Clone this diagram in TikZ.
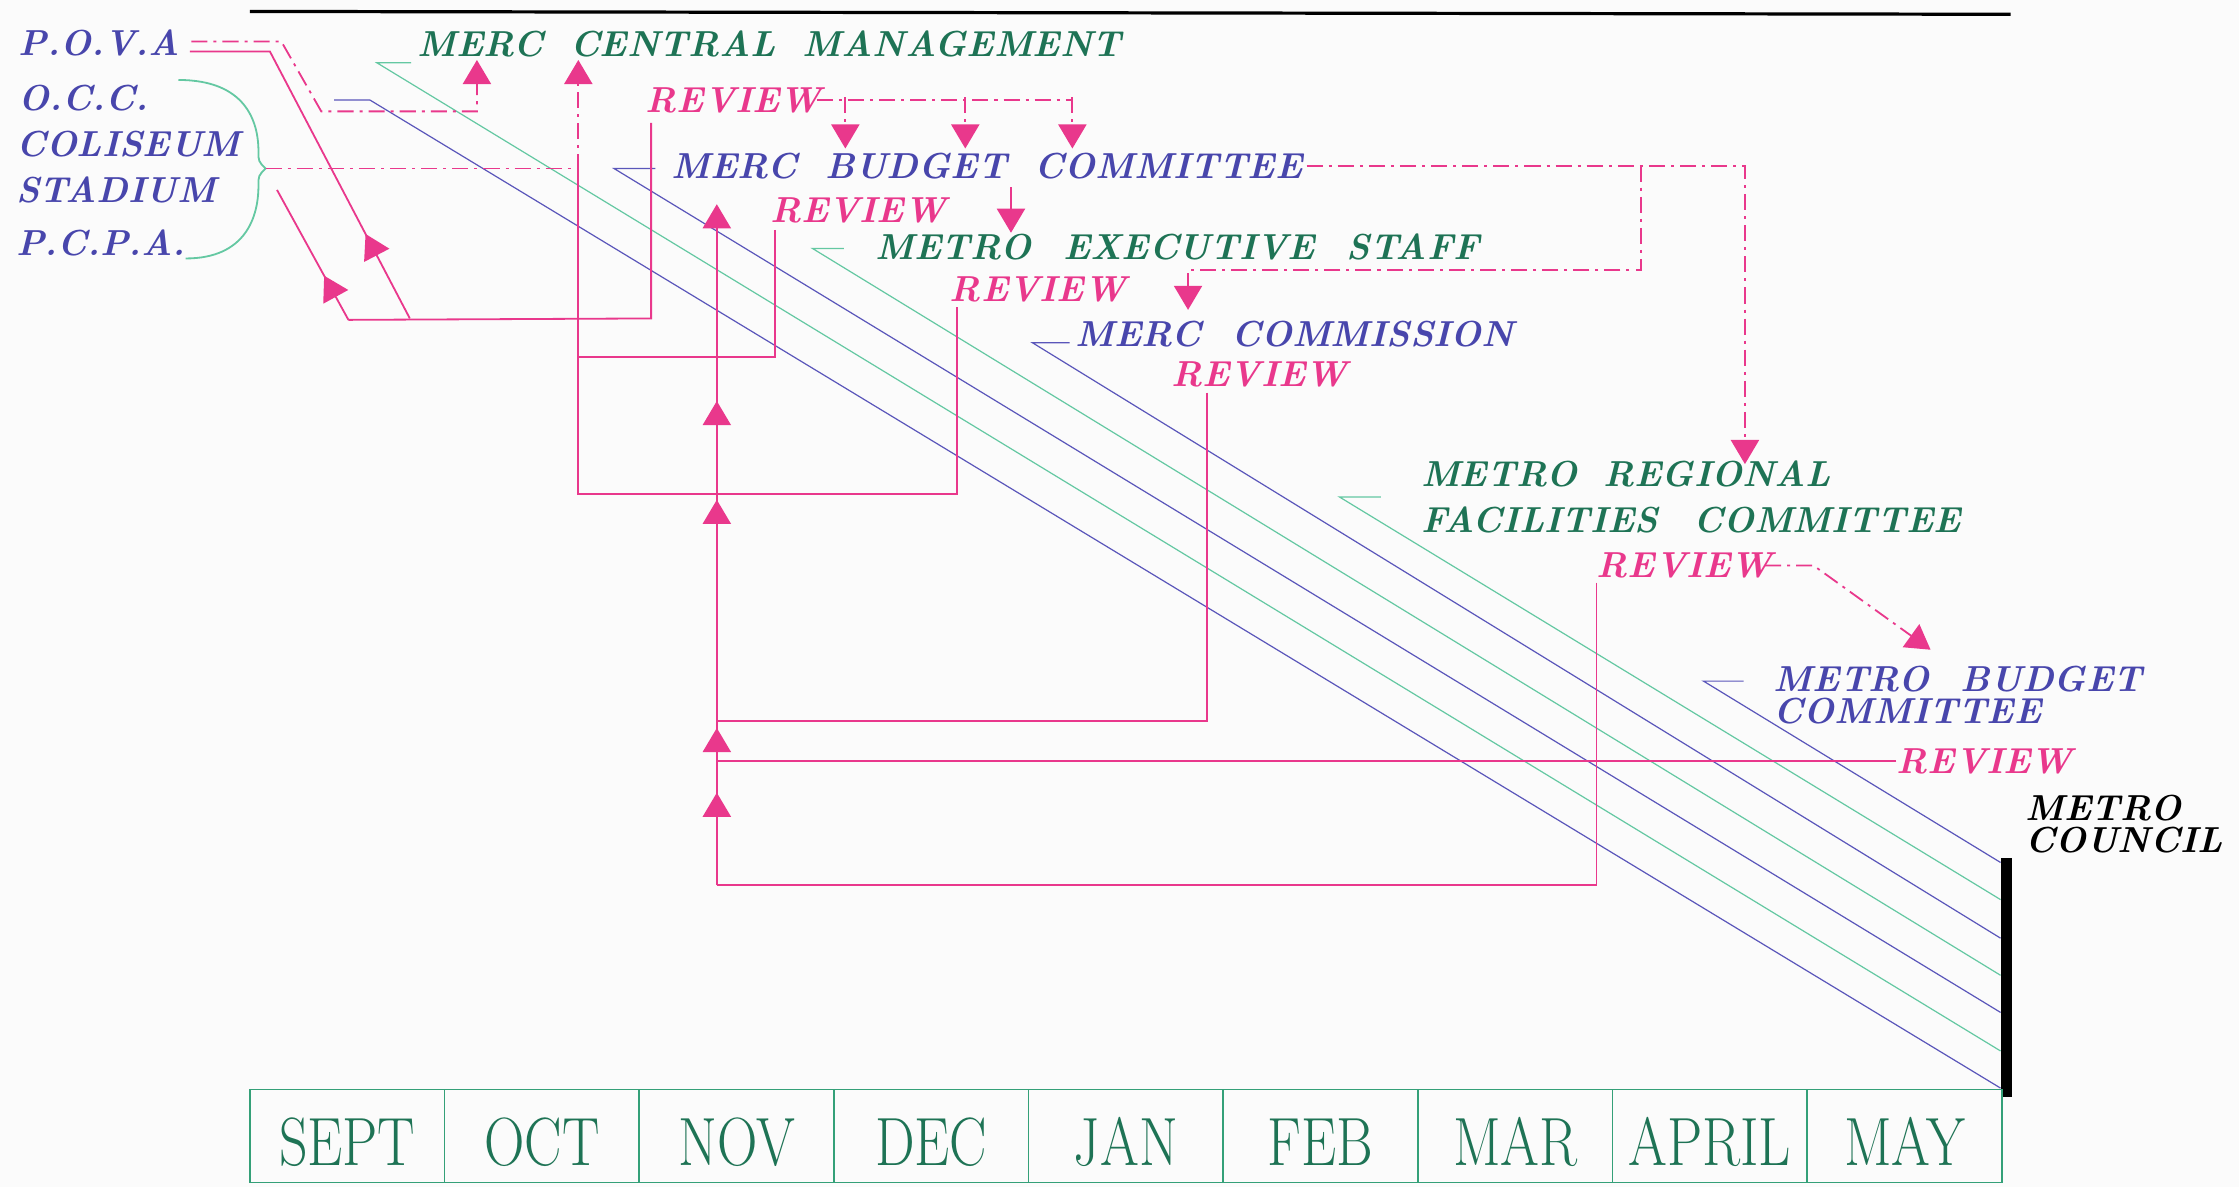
\documentclass[tikz,border=0pt]{standalone}
\usepackage{graphicx}
\usetikzlibrary{calc, positioning}
\usetikzlibrary{arrows.meta}
\usetikzlibrary{decorations.markings}

\definecolor{pinkln}{RGB}{233,56,140}
\definecolor{bluetx}{RGB}{72,70,172}
\definecolor{greentx}{RGB}{30,115,85}
\definecolor{greenln}{RGB}{100,200,162}
\definecolor{blueln}{RGB}{90,86,186}
\definecolor{boxgreen}{RGB}{52,160,120}
\definecolor{paper}{RGB}{251,251,251}

\newcommand{\spreadtxt}[2]{\makebox[\dimexpr 0.025cm*#1\relax][s]{#2}}
\newcommand{\montxt}[1]{\scalebox{0.82}[1]{#1}}
\newcommand{\ptip}{\arrow{Triangle[width=14pt,length=12pt]}}

\tikzset{
  lbl/.style={font=\bfseries\itshape\fontsize{18}{20}\selectfont, inner sep=0pt, anchor=west},
  review/.style={lbl, text=pinkln},
  flow/.style={pinkln, line width=0.9pt},
  ddash/.style={flow, dash pattern=on 8pt off 3pt on 1.5pt off 3pt},
  tipped/.style={-{Triangle[width=14pt,length=12pt]}},
  midtip/.style={postaction={decorate},
    decoration={markings, mark=at position #1 with {\ptip}}},
  tline/.style={line width=0.6pt},
  monthbox/.style={draw=boxgreen, line width=0.8pt, minimum width=3.408cm,
    minimum height=1.625cm, inner sep=0pt, text=greentx,
    text height=1.04cm, text depth=0pt, font=\fontsize{34}{34}\selectfont}
}

\begin{document}
\begin{tikzpicture}[x=0.025cm, y=-0.025cm]
\fill[paper] (0,0) rectangle (1568,831);
\useasboundingbox (0,0) rectangle (1568,831);

% top rule
\coordinate (ruleL) at (175,8);
\coordinate (ruleR) at (1408,10);
\draw[line width=1.6pt] (ruleL) -- (ruleR);

% facilities
\node[lbl, text=bluetx] (pova) at (13,30) {P.O.V.A};
\node[lbl, text=bluetx] (occ) at (13,69) {O.C.C.};
\node[lbl, text=bluetx] (coli) at (11,101) {COLISEUM};
\node[lbl, text=bluetx] (stad) at (11,133) {STADIUM};
\node[lbl, text=bluetx] (pcpa) at (11,170) {P.C.P.A.};

\coordinate (brtop) at (125,56);
\coordinate (brtip) at (186,118);
\coordinate (brbot) at (130,181);
\draw[greenln, line width=0.9pt] (brtop) .. controls (172,56) and (181,85) .. (181,106)
  .. controls (181,113) .. (brtip) .. controls (181,123) .. (181,130)
  .. controls (181,152) and (172,181) .. (brbot);

% bodies
\node[lbl, text=greentx] (mcm) at (292,31) {\spreadtxt{493}{MERC CENTRAL MANAGEMENT}};
\node[review] (rv1) at (452,70) {REVIEW};
\node[lbl, text=bluetx] (mbc) at (470,116) {\spreadtxt{442}{MERC BUDGET COMMITTEE}};
\node[review] (rv2) at (539,147) {REVIEW};
\node[lbl, text=greentx] (mes) at (613,173) {\spreadtxt{423}{METRO EXECUTIVE STAFF}};
\node[review] (rv3) at (665,203) {REVIEW};
\node[lbl, text=bluetx] (mcom) at (753,234) {\spreadtxt{307}{MERC COMMISSION}};
\node[review] (rv4) at (820,262) {REVIEW};
\node[lbl, text=greentx, align=left, font=\bfseries\itshape\fontsize{18}{22.7}\selectfont]
  (mrf) at (995,348) {\spreadtxt{287}{METRO REGIONAL}\\\spreadtxt{378}{FACILITIES COMMITTEE}};
\node[review] (rv5) at (1118,396) {REVIEW};
\node[lbl, text=bluetx, align=left, font=\bfseries\itshape\fontsize{18}{15.8}\selectfont]
  (mbud) at (1242,487) {\spreadtxt{258}{METRO BUDGET}\\COMMITTEE};
\node[review] (rv6) at (1328,533) {REVIEW};
\node[lbl, align=left, font=\bfseries\itshape\fontsize{18}{15.8}\selectfont]
  (council) at (1418,577) {METRO\\COUNCIL};

% time lines to council
\coordinate (cbarT) at (1405,601);
\coordinate (cbarB) at (1405,768);
\foreach \sx/\sy/\tx/\col/\ey in {259/70/234/blueln/762, 264/44/288/greenln/736,
    430/118/459/blueln/709, 569/174/591/greenln/683, 723/240/749/blueln/657,
    938/348/967/greenln/630, 1193/477/1221/blueln/604}
  \draw[tline, \col] (\tx,\sy) -- (\sx,\sy) -- (1401,\ey);
\draw[line width=5.5pt] (cbarT) -- (cbarB);

% back to the facilities
\coordinate (r1foot) at (456,86);
\coordinate (fbotR) at (456,223);
\coordinate (fbotL) at (244,224);
\coordinate (fbrace) at (194,133);
\coordinate (fpovaB) at (287,223);
\coordinate (fpovaK) at (189,36);
\coordinate (fpovaE) at (133,36);
\draw[flow] (r1foot) -- (fbotR) -- (fbotL);
\draw[flow, midtip=0.34] (fbotL) -- (fbrace);
\draw[flow, midtip=0.25] (fpovaB) -- (fpovaK) -- (fpovaE);

% back to central management
\coordinate (cmx) at (405,118);
\coordinate (cmA) at (334,42);
\coordinate (cmB) at (405,42);
\draw[flow] (543,161) |- (405,250);
\draw[flow] (670,215) |- (405,346) -- (cmx);
\draw[ddash, tipped] (134,29) -- (197,29) -- (225,78) -- (334,78) -- (cmA);
\draw[ddash, tipped] (brtip) -- (cmx) -- (cmB);

% back to merc budget committee
\coordinate (spineT) at (502,143);
\coordinate (spineB) at (502,620);
\draw[flow, tipped, postaction={decorate}, decoration={markings,
    mark=at position 0.136 with {\ptip}, mark=at position 0.231 with {\ptip},
    mark=at position 0.566 with {\ptip}, mark=at position 0.711 with {\ptip}}]
  (spineB) -- (spineT);
\draw[flow] (845,275) |- (502,505);
\draw[flow] (rv6.west) -- (rv6.west -| spineB);
\draw[flow] (1118,408) |- (spineB);
\draw[flow, tipped] (708,131) -- (708,163);

% forward reviews
\draw[ddash] (572,70) -- (751,70);
\foreach \xx in {592,676,751}
  \draw[ddash, tipped] (\xx,68) -- (\xx,104);
\draw[ddash, tipped] (915,116) -- (1222,116) -- (1222,325);
\draw[ddash, tipped] (1149,116) -- (1149,189) -- (832,189) -- (832,217);
\draw[ddash, tipped] (1236,396) -- (1270,396) -- (1352,455);

% months
\foreach \mname [count=\i] in {SEPT,OCT,NOV,DEC,JAN,FEB,MAR,APRIL,MAY}
  \node[monthbox] (mon\i) at ({175+136.33*(\i-0.5)},795.5) {\montxt{\mname}};
\end{tikzpicture}
\end{document}
